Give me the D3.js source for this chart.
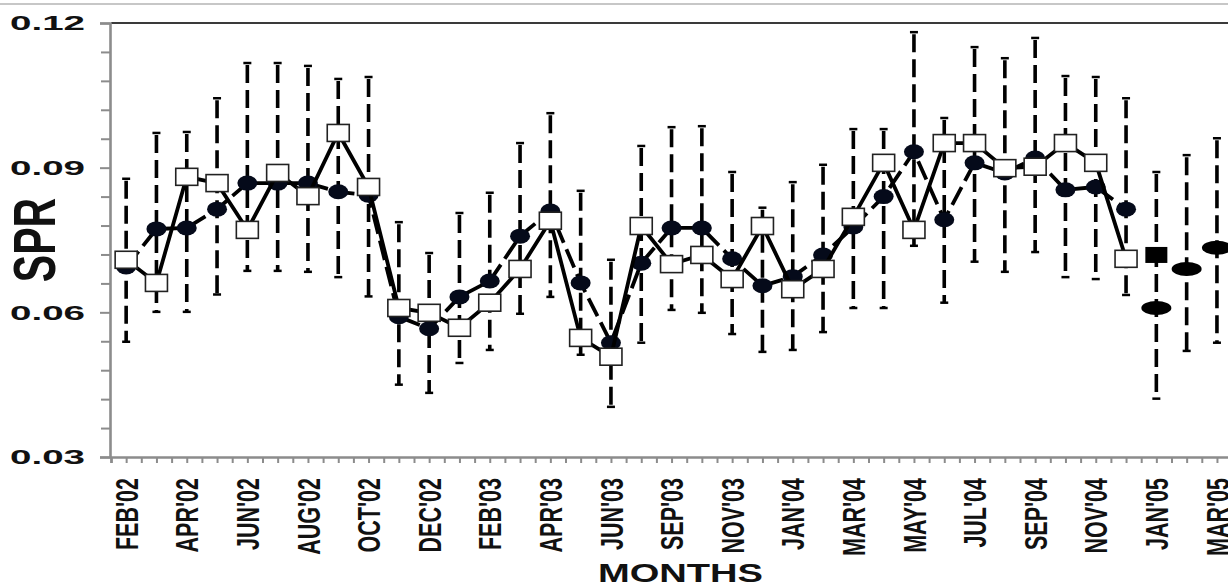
<!DOCTYPE html>
<html>
<head>
<meta charset="utf-8">
<script src="https://cdn.jsdelivr.net/npm/d3@7"></script>
<style>
  body { margin: 0; background: #fff; }
  svg { display: block; font-family: "Liberation Sans", Arial, sans-serif; }
</style>
</head>
<body>
<div id="chart"></div>
<script>
// months on the x axis (one month missing in summer 2003)
const months = ["FEB'02","MAR'02","APR'02","MAY'02","JUN'02","JUL'02","AUG'02","SEP'02","OCT'02","NOV'02","DEC'02",
  "JAN'03","FEB'03","MAR'03","APR'03","MAY'03","JUN'03","JUL'03","SEP'03","OCT'03","NOV'03","DEC'03",
  "JAN'04","FEB'04","MAR'04","APR'04","MAY'04","JUN'04","JUL'04","AUG'04","SEP'04","OCT'04","NOV'04","DEC'04",
  "JAN'05","FEB'05","MAR'05"];
const tickLabels = ["FEB'02","APR'02","JUN'02","AUG'02","OCT'02","DEC'02","FEB'03","APR'03","JUN'03","SEP'03",
  "NOV'03","JAN'04","MAR'04","MAY'04","JUL'04","SEP'04","NOV'04","JAN'05","MAR'05"];
const yTicks = [0.03, 0.06, 0.09, 0.12];

// open squares, solid line (FEB'02 - DEC'04)
const squareVals = [0.0709, 0.0661, 0.0881, 0.0868, 0.0771, 0.0889, 0.0841, 0.0972, 0.0860, 0.0609, 0.0599,
  0.0568, 0.0620, 0.0690, 0.0790, 0.0547, 0.0508, 0.0779, 0.0700, 0.0719, 0.0669, 0.0779,
  0.0648, 0.0690, 0.0798, 0.0910, 0.0771, 0.0951, 0.0951, 0.0899, 0.0902, 0.0951, 0.0910, 0.0711];
// filled circles, dashed line (FEB'02 - DEC'04)
const circleVals = [0.0694, 0.0773, 0.0775, 0.0814, 0.0868, 0.0868, 0.0868, 0.0850, 0.0843, 0.0591, 0.0566,
  0.0632, 0.0665, 0.0758, 0.0810, 0.0661, 0.0537, 0.0702, 0.0775, 0.0775, 0.0711, 0.0655,
  0.0674, 0.0719, 0.0777, 0.0840, 0.0933, 0.0792, 0.0910, 0.0889, 0.0920, 0.0854, 0.0860, 0.0814];
// 2005 points (not connected)
const endSquareMonths = ["JAN'05"];
const endSquareVals = [0.0719];
const endCircleMonths = ["JAN'05", "FEB'05", "MAR'05"];
const endCircleVals = [0.0609, 0.0690, 0.0734];

// error bar ends, one per month
const errHigh = [0.0877, 0.0972, 0.0974, 0.1044, 0.1117, 0.1117, 0.1111, 0.1084, 0.1088, 0.0787, 0.0723,
  0.0806, 0.0848, 0.0951, 0.1013, 0.0852, 0.0709, 0.0945, 0.0984, 0.0986, 0.0891, 0.0817,
  0.0870, 0.0906, 0.0980, 0.0980, 0.1181, 0.1003, 0.1150, 0.1127, 0.1169, 0.1090, 0.1088, 0.1044,
  0.0891, 0.0926, 0.0961];
const errLow = [0.0539, 0.0601, 0.0601, 0.0637, 0.0686, 0.0686, 0.0684, 0.0673, 0.0633, 0.0450, 0.0433,
  0.0495, 0.0522, 0.0597, 0.0632, 0.0512, 0.0404, 0.0537, 0.0605, 0.0599, 0.0555, 0.0518,
  0.0522, 0.0559, 0.0609, 0.0609, 0.0738, 0.0620, 0.0705, 0.0684, 0.0725, 0.0673, 0.0669, 0.0636,
  0.0421, 0.0520, 0.0537];

const W = 1228, H = 583;
const x0 = 111, step = 30.3;
const plotTop = 23, plotBottom = 457;

const svg = d3.select("#chart").append("svg")
  .attr("width", W)
  .attr("height", H);

svg.append("rect").attr("width", W).attr("height", H).attr("fill", "#fff");

const x = d3.scalePoint()
  .domain(months)
  .range([x0, x0 + months.length * step])
  .padding(0.5);

const y = d3.scaleLinear()
  .domain([0.03, 0.12])
  .range([plotBottom, plotTop]);

// frame lines at the top
svg.append("line")
  .attr("x1", 0).attr("x2", W).attr("y1", 4).attr("y2", 4)
  .attr("stroke", "#b5b5b5").attr("stroke-width", 1.5);
svg.append("line")
  .attr("x1", x0).attr("x2", W).attr("y1", plotTop).attr("y2", plotTop)
  .attr("stroke", "#3a3a3a").attr("stroke-width", 2.2);

// y axis
const yMinor = d3.range(0, 16).filter(k => k % 5 !== 0).map(k => 0.03 + k * 0.006);
svg.append("g")
  .attr("transform", `translate(${x0 - 1},0)`)
  .call(d3.axisLeft(y).tickValues(yMinor).tickSize(9).tickFormat(""))
  .call(g => g.select(".domain").remove())
  .call(g => g.selectAll("line").attr("stroke", "#8c8c8c").attr("stroke-width", 2));

const yAxis = svg.append("g")
  .attr("transform", `translate(${x0 - 1},0)`)
  .call(d3.axisLeft(y).tickValues(yTicks).tickSize(10).tickPadding(15).tickFormat(d3.format(".2f")));
yAxis.select(".domain").attr("stroke", "#8c8c8c").attr("stroke-width", 2.6);
yAxis.selectAll("line").attr("stroke", "#8c8c8c").attr("stroke-width", 2);
yAxis.selectAll("text")
  .attr("font-size", 21)
  .attr("font-weight", "bold")
  .attr("fill", "#111")
  .attr("textLength", 75)
  .attr("lengthAdjust", "spacingAndGlyphs");

// x axis: half-month minor ticks
const xt = d3.scaleLinear().domain([0, months.length]).range([x0, x0 + months.length * step]);
const xAxis = svg.append("g")
  .attr("transform", `translate(0,${plotBottom})`)
  .call(d3.axisBottom(xt).tickValues(d3.range(0, months.length + 0.01, 0.5)).tickSize(6).tickFormat(""));
xAxis.select(".domain").attr("stroke", "#8c8c8c").attr("stroke-width", 2.6);
xAxis.selectAll("line").attr("stroke", "#8c8c8c").attr("stroke-width", 2);

// x labels, rotated
const xLab = svg.append("g")
  .attr("transform", `translate(0,${plotBottom})`)
  .call(d3.axisBottom(x).tickValues(tickLabels).tickSize(0));
xLab.select(".domain").remove();
xLab.selectAll("text")
  .attr("x", 0).attr("y", 0).attr("dy", "0.36em")
  .attr("transform", "translate(0,21) scale(1.43,1) rotate(-90)")
  .attr("text-anchor", "end")
  .attr("font-size", 21.5)
  .attr("font-weight", "bold")
  .attr("fill", "#111");

// axis titles
svg.append("text")
  .attr("transform", "translate(55,240) scale(1.46,1) rotate(-90)")
  .attr("text-anchor", "middle")
  .attr("font-size", 41)
  .attr("font-weight", "bold")
  .attr("fill", "#111")
  .text("SPR");

svg.append("text")
  .attr("x", 598).attr("y", 582)
  .attr("font-size", 25)
  .attr("font-weight", "bold")
  .attr("fill", "#111")
  .attr("textLength", 165)
  .attr("lengthAdjust", "spacingAndGlyphs")
  .text("MONTHS");

// error bars
const errData = months.map((m, i) => ({ m, lo: errLow[i], hi: errHigh[i] }));
const eb = svg.append("g").attr("class", "errbars");
eb.selectAll("line.bar").data(errData).join("line")
  .attr("class", "bar")
  .attr("x1", d => x(d.m)).attr("x2", d => x(d.m))
  .attr("y1", d => y(d.hi) + 2).attr("y2", d => y(d.lo))
  .attr("stroke", "#000").attr("stroke-width", 3.6)
  .attr("stroke-dasharray", "18,7");
eb.selectAll("line.capTop").data(errData).join("line")
  .attr("class", "capTop")
  .attr("x1", d => x(d.m) - 4).attr("x2", d => x(d.m) + 4)
  .attr("y1", d => y(d.hi)).attr("y2", d => y(d.hi))
  .attr("stroke", "#000").attr("stroke-width", 2.5);
eb.selectAll("line.capBot").data(errData).join("line")
  .attr("class", "capBot")
  .attr("x1", d => x(d.m) - 4).attr("x2", d => x(d.m) + 4)
  .attr("y1", d => y(d.lo)).attr("y2", d => y(d.lo))
  .attr("stroke", "#000").attr("stroke-width", 2.5);

const circles = circleVals.map((v, i) => ({ m: months[i], v }));
const squares = squareVals.map((v, i) => ({ m: months[i], v }));
const line = d3.line().x(d => x(d.m)).y(d => y(d.v));

// circle series
svg.append("path")
  .datum(circles)
  .attr("d", line)
  .attr("fill", "none")
  .attr("stroke", "#000")
  .attr("stroke-width", 3.8)
  .attr("stroke-dasharray", "20,7");
svg.append("g").selectAll("ellipse").data(circles).join("ellipse")
  .attr("cx", d => x(d.m)).attr("cy", d => y(d.v))
  .attr("rx", 10).attr("ry", 7.5)
  .attr("fill", "#050a1a");

// square series
svg.append("path")
  .datum(squares)
  .attr("d", line)
  .attr("fill", "none")
  .attr("stroke", "#000")
  .attr("stroke-width", 3.8);
svg.append("g").selectAll("rect").data(squares).join("rect")
  .attr("x", d => x(d.m) - 11).attr("y", d => y(d.v) - 8.5)
  .attr("width", 22).attr("height", 17)
  .attr("fill", "#fff")
  .attr("stroke", "#222")
  .attr("stroke-width", 1.6);

// 2005 markers
svg.append("g").selectAll("rect").data(endSquareMonths.map((m, i) => ({ m, v: endSquareVals[i] }))).join("rect")
  .attr("x", d => x(d.m) - 11).attr("y", d => y(d.v) - 8)
  .attr("width", 22).attr("height", 16)
  .attr("fill", "#000");
svg.append("g").selectAll("ellipse").data(endCircleMonths.map((m, i) => ({ m, v: endCircleVals[i] }))).join("ellipse")
  .attr("cx", d => x(d.m)).attr("cy", d => y(d.v))
  .attr("rx", 15).attr("ry", 7)
  .attr("fill", "#000");
</script>
</body>
</html>
